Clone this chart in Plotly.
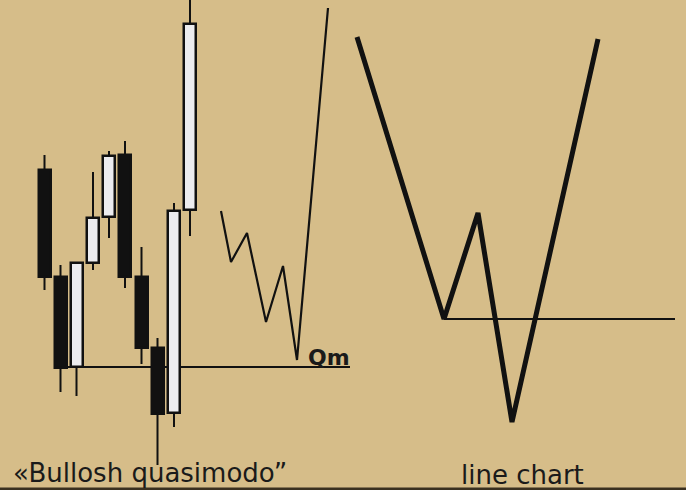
import plotly.graph_objects as go

# --- data (price units; chart is 490 units tall) ---
candle_x = [44.5, 60.5, 76.5, 93, 109, 125, 141.5, 157.5, 174, 190]
candle_open = [320, 213, 123, 227, 273, 335, 213, 142, 77, 280]
candle_high = [335, 225, 228, 318, 339, 349, 243, 152, 287, 492]
candle_low = [200, 98, 94, 220, 252, 202, 126, 25, 63, 254]
candle_close = [213, 122, 227, 272, 334, 213, 142, 76, 279, 466]

qm_level_x = [54, 350]
qm_level_y = [123, 123]

thin_x = [221, 231, 247, 266, 283, 297, 328]
thin_y = [279, 228, 257, 168, 224, 130, 482]

thick_x = [357, 444, 478, 512, 598]
thick_y = [453, 171, 277, 68, 451]

right_level_x = [444, 675]
right_level_y = [171, 171]

labels = ["«Bullosh quasimodo”", "line chart", "Qm"]

BG = "#d6bd89"
INK = "#111111"
WHITE_BODY = "#ececef"

fig = go.Figure()

# neckline under the candles (drawn below traces)
fig.add_shape(type="line", xref="x", yref="y",
              x0=qm_level_x[0], x1=qm_level_x[1], y0=qm_level_y[0], y1=qm_level_y[1],
              line=dict(color=INK, width=2), layer="below")

# wicks: upper and lower shadows only
wx, wy = [], []
for x, o, h, l, c in zip(candle_x, candle_open, candle_high, candle_low, candle_close):
    top, bot = max(o, c), min(o, c)
    wx += [x, x, None, x, x, None]
    wy += [top, h, None, l, bot, None]
fig.add_trace(go.Scatter(x=wx, y=wy, mode="lines", line=dict(color=INK, width=2),
                         hoverinfo="skip"))

# bodies
base = [min(o, c) for o, c in zip(candle_open, candle_close)]
height = [abs(c - o) for o, c in zip(candle_open, candle_close)]
colors = [WHITE_BODY if c > o else INK for o, c in zip(candle_open, candle_close)]
fig.add_trace(go.Bar(x=candle_x, y=height, base=base, width=12,
                     marker=dict(color=colors, line=dict(color=INK, width=2.5)),
                     hoverinfo="skip"))

fig.add_trace(go.Scatter(x=thin_x, y=thin_y, mode="lines",
                         line=dict(color=INK, width=2.2), hoverinfo="skip"))
fig.add_trace(go.Scatter(x=right_level_x, y=right_level_y, mode="lines",
                         line=dict(color=INK, width=2), hoverinfo="skip"))
fig.add_trace(go.Scatter(x=thick_x, y=thick_y, mode="lines",
                         line=dict(color=INK, width=5), hoverinfo="skip"))

fig.add_annotation(x=11, y=17, text=labels[0], showarrow=False, xanchor="left", yanchor="middle",
                   font=dict(family="DejaVu Sans", size=26, color="#1a1a1a"))
fig.add_annotation(x=459, y=15, text=labels[1], showarrow=False, xanchor="left", yanchor="middle",
                   font=dict(family="DejaVu Sans", size=26, color="#1a1a1a"))
fig.add_annotation(x=306, y=133, text=labels[2], showarrow=False, xanchor="left", yanchor="middle",
                   font=dict(family="DejaVu Sans", size=22, color="#1a1a1a", weight=600))

fig.add_shape(type="line", xref="paper", yref="paper", x0=0, x1=1, y0=0.002, y1=0.002,
              line=dict(color="#3a3020", width=3))

fig.update_layout(
    width=686, height=490, margin=dict(l=0, r=0, t=0, b=0),
    paper_bgcolor=BG, plot_bgcolor=BG, showlegend=False, bargap=0,
    xaxis=dict(range=[0, 686], visible=False, fixedrange=True),
    yaxis=dict(range=[0, 490], visible=False, fixedrange=True),
)

fig.write_html("out.html", config={"displayModeBar": False},
               post_script="document.body.style.margin='0';")
